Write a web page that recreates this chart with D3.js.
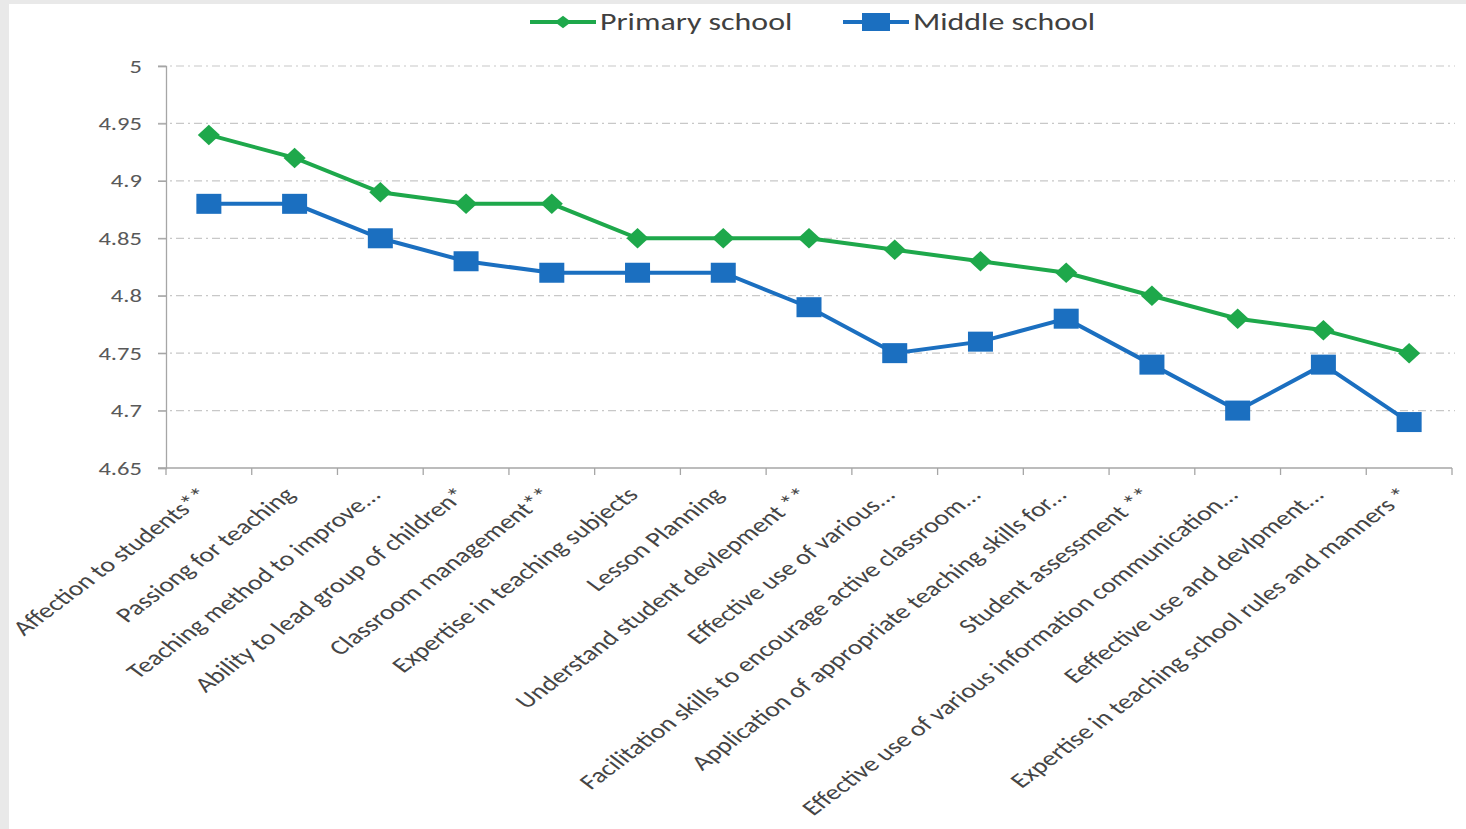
<!DOCTYPE html>
<html><head><meta charset="utf-8">
<script src="https://cdn.jsdelivr.net/npm/d3@7"></script>
<style>
html,body{margin:0;padding:0;background:#fff;}
svg{display:block;}
</style></head>
<body>
<svg id="chart" width="1466" height="829"></svg>
<script>
const categories = [
  "Affection to students**",
  "Passiong for teaching",
  "Teaching method to improve...",
  "Ability to lead group of children*",
  "Classroom management**",
  "Expertise in teaching subjects",
  "Lesson Planning",
  "Understand student devlepment **",
  "Effective use of various...",
  "Facilitation skills to encourage active classroom...",
  "Application of appropriate teaching skills for...",
  "Student assessment **",
  "Effective use of various information communication...",
  "Eeffective use and devlpment...",
  "Expertise in teaching school rules and manners *"
];
const primary = [4.94, 4.92, 4.89, 4.88, 4.88, 4.85, 4.85, 4.85, 4.84, 4.83, 4.82, 4.80, 4.78, 4.77, 4.75];
const middle  = [4.88, 4.88, 4.85, 4.83, 4.82, 4.82, 4.82, 4.79, 4.75, 4.76, 4.78, 4.74, 4.70, 4.74, 4.69];
const yTicks = [4.65, 4.7, 4.75, 4.8, 4.85, 4.9, 4.95, 5];
const seriesNames = ["Primary school", "Middle school"];

(function () {
const svg = d3.select("#chart");
const W = 1466, H = 829;
const SX = 1.33; // horizontal stretch of the original picture
const font = "Carlito, 'Open Sans', 'DejaVu Sans', sans-serif";

// background frame
svg.append("rect").attr("width", W).attr("height", H).attr("fill", "#e9e9e9");
svg.append("rect").attr("x", 9).attr("y", 4).attr("width", W - 9).attr("height", H - 4).attr("fill", "#ffffff");

const pLeft = 166, pRight = 1452, pTop = 66, pBottom = 468;
const x = d3.scaleBand().domain(categories).range([pLeft, pRight]);
const y = d3.scaleLinear().domain([4.65, 5]).range([pBottom, pTop]);

// gridlines
svg.append("g").selectAll("line").data(yTicks.filter(d => d > 4.65)).join("line")
  .attr("x1", pLeft - 8).attr("x2", pRight + 3)
  .attr("y1", d => y(d)).attr("y2", d => y(d))
  .attr("stroke", "#c8c8c8").attr("stroke-width", 1.2)
  .attr("stroke-dasharray", "8,4,2,4");

// y axis (ticks + domain via d3 axis, labels drawn stretched)
const yAxis = d3.axisLeft(y).tickValues(yTicks).tickSize(8).tickFormat("");
const gy = svg.append("g").attr("transform", `translate(${pLeft},0)`).call(yAxis);
gy.select(".domain").attr("stroke", "#a6a6a6").attr("stroke-width", 1.3);
gy.selectAll(".tick line").attr("stroke", "#a6a6a6").attr("stroke-width", 1.3);

svg.append("g").selectAll("text").data(yTicks).join("text")
  .attr("transform", d => `translate(${pLeft - 24},${y(d) + 6.5}) scale(${SX},1)`)
  .attr("text-anchor", "end")
  .attr("font-family", font).attr("font-size", 18.5).attr("fill", "#595959")
  .text(d => d3.format("")(+d.toFixed(2)));

// x axis
const boundaries = d3.range(categories.length + 1).map(i => pLeft + i * x.step());
svg.append("line").attr("x1", pLeft - 8).attr("x2", pRight).attr("y1", pBottom).attr("y2", pBottom)
  .attr("stroke", "#a6a6a6").attr("stroke-width", 1.3);
svg.append("g").selectAll("line").data(boundaries).join("line")
  .attr("x1", d => d).attr("x2", d => d).attr("y1", pBottom).attr("y2", pBottom + 7)
  .attr("stroke", "#a6a6a6").attr("stroke-width", 1.3);

// x labels
svg.append("g").selectAll("text").data(categories).join("text")
  .attr("transform", d => `translate(${x(d) + x.bandwidth() / 2 + 2},${pBottom + 28}) scale(${SX},1) rotate(-45)`)
  .attr("text-anchor", "end")
  .attr("font-family", font).attr("font-size", 21).attr("fill", "#454545")
  .text(d => d);

const green = "#1ea84b", blue = "#1b6fc0";
const cx = i => x(categories[i]) + x.bandwidth() / 2;
const line = d3.line().x((d, i) => cx(i)).y(d => y(d));

svg.append("path").datum(primary).attr("d", line).attr("fill", "none")
  .attr("stroke", green).attr("stroke-width", 4);
svg.append("path").datum(middle).attr("d", line).attr("fill", "none")
  .attr("stroke", blue).attr("stroke-width", 4);

const diamond = d3.symbol().type(d3.symbolSquare).size(210);
svg.append("g").selectAll("path").data(primary).join("path")
  .attr("d", diamond())
  .attr("transform", (d, i) => `translate(${cx(i)},${y(d)}) scale(1.08,1) rotate(45)`)
  .attr("fill", green);
svg.append("g").selectAll("rect").data(middle).join("rect")
  .attr("x", (d, i) => cx(i) - 12.5).attr("y", d => y(d) - 10)
  .attr("width", 25).attr("height", 20).attr("fill", blue);

// legend
const leg = svg.append("g");
const legItems = [
  {name: seriesNames[0], color: green, x0: 530, type: "diamond"},
  {name: seriesNames[1], color: blue, x0: 843, type: "square"}
];
legItems.forEach(it => {
  const ly = 22;
  leg.append("line").attr("x1", it.x0).attr("x2", it.x0 + 66).attr("y1", ly).attr("y2", ly)
    .attr("stroke", it.color).attr("stroke-width", 4);
  if (it.type === "diamond") {
    leg.append("path").attr("d", d3.symbol().type(d3.symbolSquare).size(80)())
      .attr("transform", `translate(${it.x0 + 33},${ly}) scale(1.3,1) rotate(45)`).attr("fill", it.color);
  } else {
    leg.append("rect").attr("x", it.x0 + 19).attr("y", ly - 9).attr("width", 28).attr("height", 18).attr("fill", it.color);
  }
  leg.append("text").attr("transform", `translate(${it.x0 + 70},${ly + 8}) scale(${SX},1)`)
    .attr("font-family", font).attr("font-size", 24).attr("fill", "#404040").text(it.name);
});
})();
</script>
</body></html>
